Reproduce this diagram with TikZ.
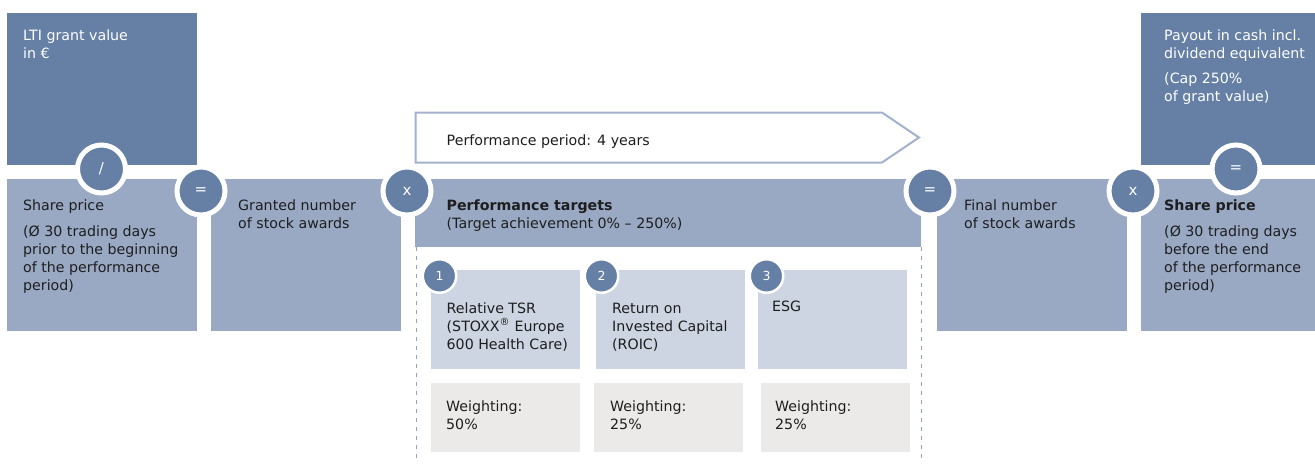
\documentclass[tikz,border=0pt]{standalone}
\usepackage{fontspec}
\setmainfont{DejaVu Sans}
\usepackage{tikz}

\definecolor{darkblue}{HTML}{657FA5}
\definecolor{midblue}{HTML}{99A9C4}
\definecolor{lightblue}{HTML}{CDD5E2}
\definecolor{lightgrey}{HTML}{EBEAE8}
\definecolor{arrowblue}{HTML}{A2B2CC}
\definecolor{dashblue}{HTML}{8FA2C1}
\definecolor{textdark}{HTML}{1E1E1E}

\begin{document}
\begin{tikzpicture}[x=1pt, y=-1pt,
  every node/.style={font=\fontsize{14.2}{18}\selectfont, text=textdark, inner sep=0pt, anchor=north west, align=left},
  wtext/.style={text=white},
  opcircle/.style={circle, fill=darkblue, draw=white, line width=5pt, minimum size=48pt, anchor=center, text=white, font=\fontsize{15}{18}\selectfont},
  numcircle/.style={circle, fill=darkblue, draw=white, line width=2.5pt, minimum size=33.5pt, anchor=center, text=white, font=\fontsize{12.5}{14}\selectfont}]
  \useasboundingbox (0,0) rectangle (1315,464);
  % top boxes
  \fill[darkblue] (7,13) rectangle (197,165);
  \fill[darkblue] (1141,13) rectangle (1315,165);
  % main row
  \fill[midblue] (7,179) rectangle (197,331);
  \fill[midblue] (211,179) rectangle (401,331);
  \fill[midblue] (415,179) rectangle (921,247);
  \fill[midblue] (937,179) rectangle (1127,331);
  \fill[midblue] (1141,179) rectangle (1315,331);
  % targets
  \fill[lightblue] (431,270) rectangle (580,369);
  \fill[lightblue] (596,270) rectangle (745,369);
  \fill[lightblue] (758,270) rectangle (907,369);
  \fill[lightgrey] (431,383) rectangle (580,452);
  \fill[lightgrey] (594,383) rectangle (743,452);
  \fill[lightgrey] (761,383) rectangle (910,452);
  \draw[dashblue, line width=0.9pt, dash pattern=on 4pt off 5pt] (416,247) -- (416,462);
  \draw[dashblue, line width=0.9pt, dash pattern=on 4pt off 5pt] (921,247) -- (921,462);
  % performance period arrow
  \draw[arrowblue, line width=2pt, fill=white] (415.5,112.5) -- (882,112.5) -- (919,137.5) -- (882,162.5) -- (415.5,162.5) -- cycle;
  \node (periodtext) at (446.5,135) {Performance period: 4 years};

  \node[wtext] (ltitext) at (23,29.9) {LTI grant value\\in €};
  \node (sharetext) at (23,199.9) {Share price\\[8pt](Ø 30 trading days\\prior to the beginning\\of the performance\\period)};
  \node (grantedtext) at (238,199.9) {Granted number\\of stock awards};
  \node (targetstext) at (446.5,199.2) {\textbf{Performance targets}\\(Target achievement 0\% – 250\%)};
  \node (tsrtext) at (446.5,302.2) {Relative TSR\\(STOXX\textsuperscript{®} Europe\\600 Health Care)};
  \node (roictext) at (612,302.6) {Return on\\Invested Capital\\(ROIC)};
  \node (esgtext) at (772,300.4) {ESG};
  \node (tsrweight) at (446,400.2) {Weighting:\\50\%};
  \node (roicweight) at (610,400.2) {Weighting:\\25\%};
  \node (esgweight) at (775,400.2) {Weighting:\\25\%};
  \node (finaltext) at (964,199.9) {Final number\\of stock awards};
  \node (endpricetext) at (1164,199.9) {\textbf{Share price}\\[8pt](Ø 30 trading days\\before the end\\of the performance\\period)};
  \node[wtext] (payouttext) at (1164,29.2) {Payout in cash incl.\\dividend equivalent\\[7pt](Cap 250\%\\of grant value)};

  % operators
  \node[opcircle] (divide) at (101.5,169) {/};
  \node[opcircle] (equalsa) at (201,191) {=};
  \node[opcircle] (timesa) at (407,191) {x};
  \node[opcircle] (equalsb) at (930,191) {=};
  \node[opcircle] (timesb) at (1133,191) {x};
  \node[opcircle] (equalsc) at (1236,169) {=};
  \node[numcircle] (numa) at (439.5,276) {1};
  \node[numcircle] (numb) at (601.5,276) {2};
  \node[numcircle] (numc) at (766.5,276) {3};
\end{tikzpicture}
\end{document}
